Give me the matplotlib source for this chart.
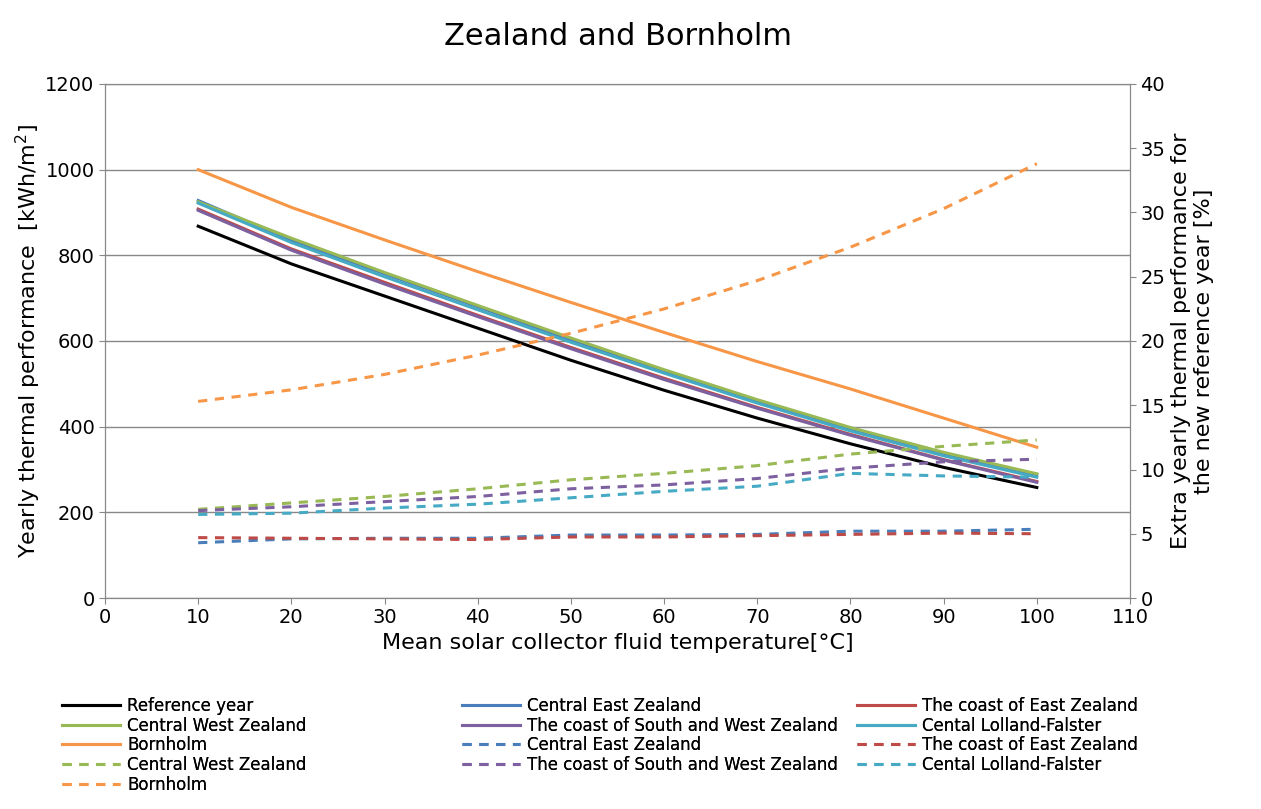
import matplotlib.pyplot as plt

# x positions (mean fluid temperature)
temps = [10, 20, 30, 40, 50, 60, 70, 80, 90, 100]

# yearly thermal performance, kWh/m2 (left axis)
ref_year = [868, 780, 705, 630, 555, 485, 420, 360, 305, 258]
c_east = [928, 835, 757, 680, 603, 530, 460, 395, 335, 288]
coast_east = [908, 815, 737, 660, 585, 513, 445, 382, 323, 272]
c_west = [925, 840, 760, 683, 607, 533, 463, 398, 340, 290]
coast_sw = [905, 812, 733, 657, 582, 510, 443, 380, 322, 270]
lolland = [922, 830, 750, 673, 597, 525, 455, 390, 332, 282]
bornholm = [1000, 912, 836, 762, 690, 620, 552, 488, 420, 352]

# extra performance vs reference year, % (right axis)
x_c_east = [4.3, 4.6, 4.65, 4.65, 4.9, 4.9, 4.95, 5.2, 5.2, 5.35]
x_coast_east = [4.7, 4.65, 4.6, 4.55, 4.75, 4.75, 4.85, 4.95, 5.05, 5.0]
x_c_west = [6.9, 7.4, 7.9, 8.5, 9.2, 9.7, 10.3, 11.2, 11.8, 12.3]
x_coast_sw = [6.8, 7.1, 7.5, 7.9, 8.5, 8.8, 9.3, 10.1, 10.6, 10.8]
x_lolland = [6.5, 6.6, 7.0, 7.3, 7.8, 8.3, 8.7, 9.7, 9.5, 9.4]
x_bornholm = [15.3, 16.2, 17.4, 18.9, 20.6, 22.5, 24.7, 27.3, 30.3, 33.8]

black = '#000000'
blue = '#4a7ebb'
red = '#be4b48'
green = '#98b954'
purple = '#7d60a0'
cyan = '#46aac5'
orange = '#f79646'

fig = plt.figure(figsize=(12.61, 8.09), dpi=100)
ax = fig.add_axes([105/1261, 1-598/809, 1025/1261, 514/809])
ax2 = ax.twinx()

lw = 2.2
h = []
h += ax.plot(temps, ref_year, color=black, lw=lw, label='Reference year')
h += ax.plot(temps, c_east, color=blue, lw=lw, label='Central East Zealand')
h += ax.plot(temps, coast_east, color=red, lw=lw, label='The coast of East Zealand')
h += ax.plot(temps, c_west, color=green, lw=lw, label='Central West Zealand')
h += ax.plot(temps, coast_sw, color=purple, lw=lw, label='The coast of South and West Zealand')
h += ax.plot(temps, lolland, color=cyan, lw=lw, label='Cental Lolland-Falster')
h += ax.plot(temps, bornholm, color=orange, lw=lw, label='Bornholm')
ds = dict(lw=lw, ls=(0, (3, 2.5)))
h += ax2.plot(temps, x_c_east, color=blue, label='Central East Zealand', **ds)
h += ax2.plot(temps, x_coast_east, color=red, label='The coast of East Zealand', **ds)
h += ax2.plot(temps, x_c_west, color=green, label='Central West Zealand', **ds)
h += ax2.plot(temps, x_coast_sw, color=purple, label='The coast of South and West Zealand', **ds)
h += ax2.plot(temps, x_lolland, color=cyan, label='Cental Lolland-Falster', **ds)
h += ax2.plot(temps, x_bornholm, color=orange, label='Bornholm', **ds)

ax.set_xlim(0, 110)
ax.set_xticks(range(0, 111, 10))
ax.set_ylim(0, 1200)
ax.set_yticks(range(0, 1201, 200))
ax2.set_ylim(0, 40)
ax2.set_yticks(range(0, 41, 5))
ax.grid(axis='y', color='#888888', lw=1)
ax.set_axisbelow(True)
for a in (ax, ax2):
    a.tick_params(labelsize=14, length=4, color='#888888')
    for s in a.spines.values():
        s.set_color('#888888')

ax.set_xlabel('Mean solar collector fluid temperature[°C]', fontsize=16)
ax.set_ylabel('Yearly thermal performance  [kWh/m$^2$]', fontsize=16, labelpad=2)
ax2.set_ylabel('Extra yearly thermal performance for\nthe new reference year [%]', fontsize=16)
fig.text(0.49, 0.955, 'Zealand and Bornholm', ha='center', va='center', fontsize=22)

# legend laid out row by row, one legend per column
col_x = [62/1261, 462/1261, 857/1261]
for c in range(3):
    leg = fig.legend(handles=h[c::3], loc='upper left', bbox_to_anchor=(col_x[c], 1-697/809),
                     fontsize=12, frameon=False, handlelength=3.5, labelspacing=0.1,
                     borderaxespad=0, borderpad=0, handletextpad=0.4)
    fig.add_artist(leg)
plt.savefig('out.png', dpi=100)
